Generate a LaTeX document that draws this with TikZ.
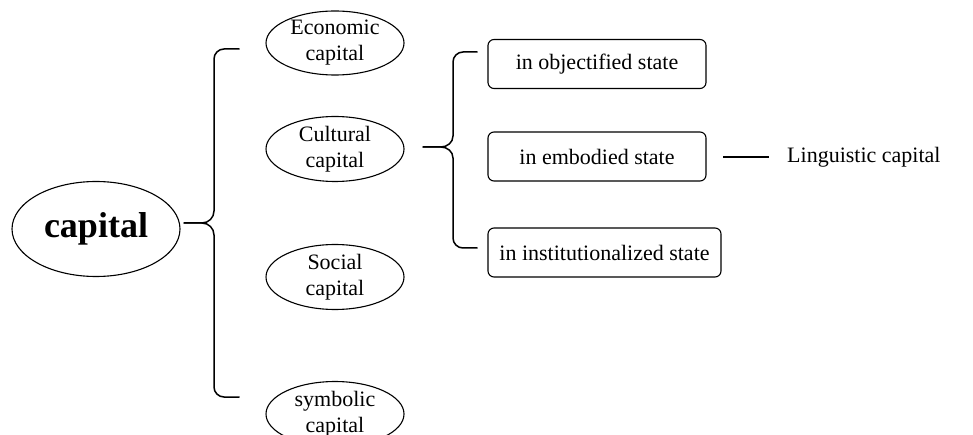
\documentclass[tikz,border=0pt]{standalone}
\usepackage{fontspec}
\setmainfont{Liberation Serif}
\usetikzlibrary{shapes.geometric}
\begin{document}
\begin{tikzpicture}[x=1pt,y=-1pt,
  txt/.style={font=\fontsize{22}{26}\selectfont, align=center, inner sep=0pt},
  oval/.style={ellipse, draw, line width=1.1pt, minimum width=138pt, minimum height=62pt, inner sep=0pt, font=\fontsize{22}{26}\selectfont, align=center},
  bigoval/.style={ellipse, draw, line width=1.1pt, minimum width=168pt, minimum height=95pt, inner sep=0pt, font=\fontsize{36}{40}\selectfont\bfseries},
  statebox/.style={draw, rounded corners=6pt, line width=1.1pt, minimum height=49pt, inner sep=0pt, font=\fontsize{22}{26}\selectfont},
  brace/.style={line width=1.5pt, line cap=round}]
\useasboundingbox (0,0) rectangle (973,435);
\node[bigoval] (cap) at (96,229) {capital};
\node[oval] (eco) at (335,43) {Economic\\capital};
\node[oval] (cul) at (335,149) {Cultural\\capital};
\node[oval] (soc) at (335,277) {Social\\capital};
\node[oval] (sym) at (335,414) {symbolic\\capital};
\node[statebox, minimum width=218pt] (obj) at (597,64) {in objectified state};
\node[statebox, minimum width=218pt] (emb) at (597,156.5) {in embodied state};
\node[statebox, minimum width=233pt] (ins) at (604.5,252.5) {in institutionalized state};
\node[txt, anchor=west] (ling) at (787,157) {Linguistic capital};
% first brace
\coordinate (b1tip) at (184,223);
\coordinate (b1top) at (239,49);
\coordinate (b1bot) at (239,397);
\draw[brace] (b1top) -- (224,49) to[out=180,in=90] (214,59) -- (214,211)
  to[out=-90,in=0] (202,223) -- (b1tip);
\draw[brace] (b1tip) -- (202,223) to[out=0,in=90] (214,235) -- (214,387)
  to[out=-90,in=180] (224,397) -- (b1bot);
% second brace
\coordinate (b2tip) at (423,147);
\coordinate (b2top) at (477,52);
\coordinate (b2bot) at (477,248);
\draw[brace] (b2top) -- (463,52) to[out=180,in=90] (453,62) -- (453,136)
  to[out=-90,in=0] (441,147) -- (b2tip);
\draw[brace] (b2tip) -- (441,147) to[out=0,in=90] (453,158) -- (453,238)
  to[out=-90,in=180] (463,248) -- (b2bot);
% linguistic line
\coordinate (l1) at (723,157);
\coordinate (l2) at (769,157);
\draw[line width=1.3pt] (l1) -- (l2);
\end{tikzpicture}
\end{document}
